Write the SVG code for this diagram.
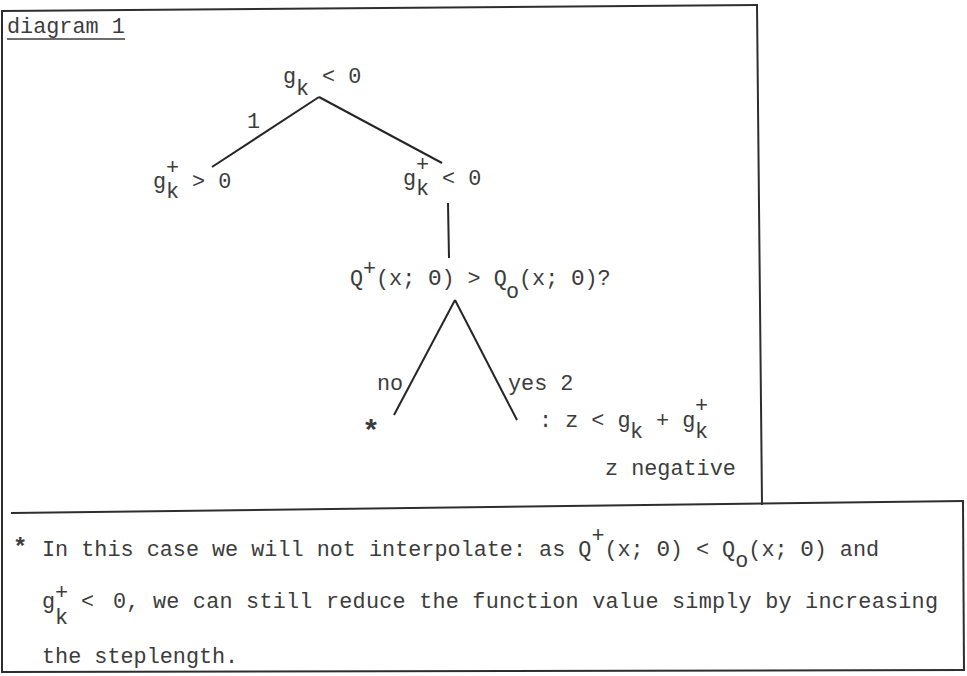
<svg xmlns="http://www.w3.org/2000/svg" width="967" height="676" viewBox="0 0 967 676">
<style>
  text { font-family: "Liberation Mono", "DejaVu Sans Mono", monospace; font-size: 21.8px; fill: #3c3c3c; }
  .b { font-weight: bold; }
  .frame { stroke: #2e2e2e; stroke-width: 2; fill: none; stroke-linecap: square; }
  .edge { stroke: #262626; stroke-width: 2; fill: none; }
</style>
<rect width="967" height="676" fill="#ffffff"/>

<g id="frame">
  <line class="frame" x1="2" y1="11" x2="757" y2="5"/>
  <line class="frame" x1="2" y1="11" x2="2" y2="672"/>
  <line class="frame" x1="757" y1="5" x2="762" y2="504"/>
  <line class="frame" x1="12" y1="513" x2="963" y2="501"/>
  <line class="frame" x1="963" y1="501" x2="964" y2="670"/>
  <line class="frame" x1="2" y1="672" x2="964" y2="670"/>
</g>

<g id="title">
  <text x="7" y="33">diagram 1</text>
  <line x1="7" y1="39" x2="125" y2="39" stroke="#3c3c3c" stroke-width="1.5"/>
</g>

<g id="connectors">
  <line class="edge" x1="319" y1="97" x2="212" y2="167"/>
  <line class="edge" x1="319" y1="97" x2="442" y2="163"/>
  <line class="edge" x1="448" y1="203" x2="449" y2="258"/>
  <line class="edge" x1="455" y1="300" x2="394" y2="415"/>
  <line class="edge" x1="455" y1="300" x2="517" y2="420"/>
  <text x="247" y="128">1</text>
  <text x="377" y="390">no</text>
  <text x="508" y="390">yes 2</text>
</g>

<g id="node-root">
  <text x="283" y="83">g</text>
  <text x="296" y="95">k</text>
  <text x="322" y="83">&lt; 0</text>
</g>

<g id="node-left">
  <text x="153" y="188">g</text>
  <text x="166" y="174">+</text>
  <text x="166" y="198">k</text>
  <text x="192" y="188">&gt; 0</text>
</g>

<g id="node-right">
  <text x="403" y="185">g</text>
  <text x="416" y="171">+</text>
  <text x="416" y="195">k</text>
  <text x="442" y="185">&lt; 0</text>
</g>

<g id="node-question">
  <text x="350" y="285">Q</text>
  <text x="363" y="275">+</text>
  <text x="376" y="285">(x; Θ) &gt; Q</text>
  <text x="506" y="298">o</text>
  <text x="519" y="285">(x; Θ)?</text>
</g>

<g id="node-no">
  <text class="b" x="362" y="441" style="font-size:30px">*</text>
</g>

<g id="node-yes">
  <text x="539" y="427">: z &lt; g</text>
  <text x="630" y="438">k</text>
  <text x="656" y="427">+ g</text>
  <text x="695" y="438">k</text>
  <text x="695" y="412">+</text>
  <text x="605" y="475">z negative</text>
</g>

<g id="footnote">
  <text class="b" x="13" y="555" style="font-size:24px">*</text>
  <text x="42" y="556">In this case we will not interpolate: as Q<tspan x="591.4" y="542">+</tspan><tspan x="604.4" y="556">(x; Θ) &lt; Q</tspan><tspan x="735.2" y="567">o</tspan><tspan x="748.3" y="556">(x; Θ) and</tspan></text>
  <text x="42" y="608">g</text>
  <text x="55" y="599">+</text>
  <text x="55" y="624">k</text>
  <text x="81" y="608">&lt;</text>
  <text x="113" y="608" textLength="825" lengthAdjust="spacing">0, we can still reduce the function value simply by increasing</text>
  <text x="42" y="663">the steplength.</text>
</g>
</svg>
